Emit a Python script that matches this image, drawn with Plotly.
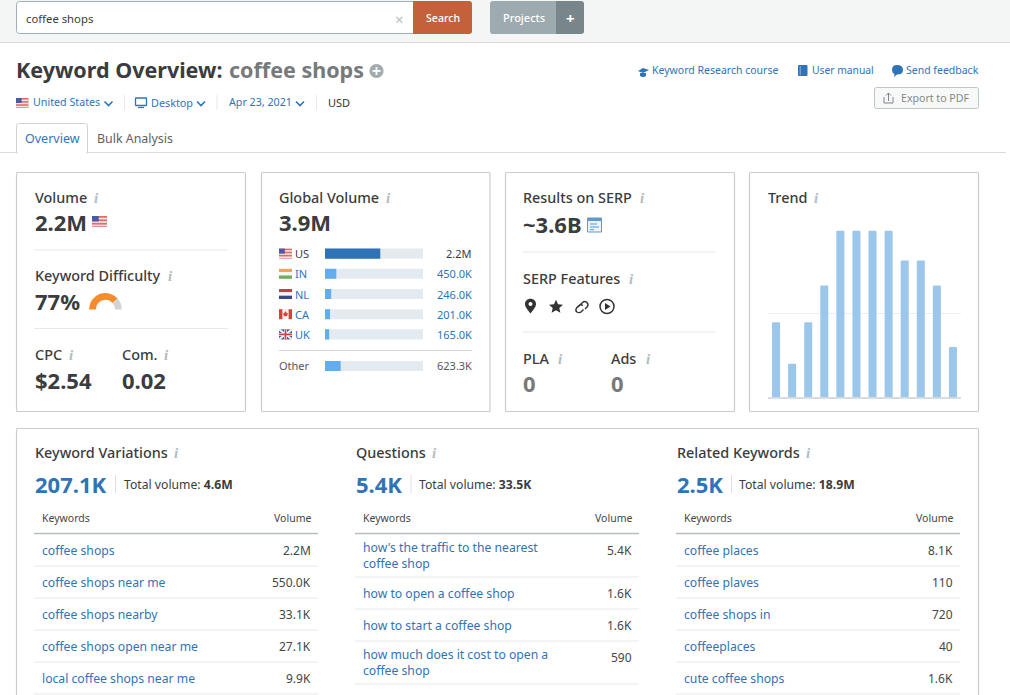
import plotly.graph_objects as go

# ---------- data ----------
trend_months = ["M1","M2","M3","M4","M5","M6","M7","M8","M9","M10","M11","M12"]
trend_values = [45, 20, 45, 67, 100, 100, 100, 100, 82, 82, 67, 30]

country_codes = ["US", "IN", "NL", "CA", "UK"]
country_values = [2200, 450, 246, 201, 165]
country_labels = ["2.2M", "450.0K", "246.0K", "201.0K", "165.0K"]
other_value = 623.3
other_label = "623.3K"
global_total = 3900

difficulty = [77, 23]

variation_keywords = ["coffee shops", "coffee shops near me", "coffee shops nearby", "coffee shops open near me", "local coffee shops near me"]
variation_volumes = ["2.2M", "550.0K", "33.1K", "27.1K", "9.9K"]
question_keywords = ["how's the traffic to the nearest\ncoffee shop", "how to open a coffee shop", "how to start a coffee shop", "how much does it cost to open a\ncoffee shop"]
question_volumes = ["5.4K", "1.6K", "1.6K", "590"]
related_keywords = ["coffee places", "coffee plaves", "coffee shops in", "coffeeplaces", "cute coffee shops"]
related_volumes = ["8.1K", "110", "720", "40", "1.6K"]

# ---------- style ----------
W, H = 1010, 695
FONT = "Noto Sans"
DARK = "#3a3c3e"
BLUE = "#2f73b8"
GREY = "#7d7f81"
SEP = "#e6e9eb"
CARD = "#c9cdd0"
BIG = 22
HEAD = 14.4

shapes, annots = [], []

def T(x, y, text, size=12, color=DARK, bold=False, anchor="left", font=FONT, weight=None):
    w = weight if weight else (700 if bold else 400)
    annots.append(dict(x=x, y=y, xref="x", yref="y", text=text, showarrow=False, xanchor=anchor, align=anchor if anchor != "center" else "center",
                       yanchor="middle", borderpad=0, borderwidth=0,
                       font=dict(family=font, size=size, color=color, weight=w)))

def rect(x0, y0, x1, y1, fill="rgba(0,0,0,0)", line=None, lw=1):
    shapes.append(dict(type="rect", xref="x", yref="y", x0=x0, y0=y0, x1=x1, y1=y1, fillcolor=fill,
                       line=dict(color=line or "rgba(0,0,0,0)", width=lw if line else 0), layer="below"))

def rr_path(x0, y0, x1, y1, r, corners=(1, 1, 1, 1)):
    tl, tr, br, bl = [r * c for c in corners]
    p = f"M{x0+tl},{y0} L{x1-tr},{y0} "
    p += f"Q{x1},{y0} {x1},{y0+tr} L{x1},{y1-br} Q{x1},{y1} {x1-br},{y1} "
    p += f"L{x0+bl},{y1} Q{x0},{y1} {x0},{y1-bl} L{x0},{y0+tl} Q{x0},{y0} {x0+tl},{y0} Z"
    return p

def path(d, fill="rgba(0,0,0,0)", line=None, lw=1):
    shapes.append(dict(type="path", xref="x", yref="y", path=d, fillcolor=fill,
                       line=dict(color=line or "rgba(0,0,0,0)", width=lw if line else 0), layer="below"))

def circle(cx, cy, r, fill="rgba(0,0,0,0)", line=None, lw=1):
    k = 0.5523 * r
    d = (f"M{cx-r},{cy} C{cx-r},{cy-k} {cx-k},{cy-r} {cx},{cy-r} C{cx+k},{cy-r} {cx+r},{cy-k} {cx+r},{cy} "
         f"C{cx+r},{cy+k} {cx+k},{cy+r} {cx},{cy+r} C{cx-k},{cy+r} {cx-r},{cy+k} {cx-r},{cy} Z")
    path(d, fill, line, lw)

def rr(x0, y0, x1, y1, r=2, fill="rgba(0,0,0,0)", line=None, lw=1, corners=(1, 1, 1, 1)):
    path(rr_path(x0, y0, x1, y1, r, corners), fill, line, lw)

def hline(x0, x1, y, color=SEP, lw=1):
    shapes.append(dict(type="line", xref="x", yref="y", x0=x0, x1=x1, y0=y, y1=y, line=dict(color=color, width=lw), layer="below"))

def vline(x, y0, y1, color=SEP, lw=1):
    shapes.append(dict(type="line", xref="x", yref="y", x0=x, x1=x, y0=y0, y1=y1, line=dict(color=color, width=lw), layer="below"))

def info(x, y):
    T(x, y, "<i>i</i>", 15, "#b4bbbf", font="Liberation Serif", anchor="center", bold=True)

def chevron(x, y):
    path(f"M{x-4},{y-2} L{x},{y+2} L{x+4},{y-2}", line=BLUE, lw=1.6)

def flag(kind, x, y, w=13, h=10):
    if kind == "US":
        rect(x, y, x + w, y + h, "#e06a66")
        for i in range(1, 6, 2):
            rect(x, y + i * h / 6.4, x + w, y + (i + 1) * h / 6.4, "#f3e4e4")
        rect(x, y, x + w * 0.45, y + h * 0.5, "#4a5aa5")
    elif kind == "IN":
        rect(x, y, x + w, y + h / 3, "#f0a35c")
        rect(x, y + h / 3, x + w, y + 2 * h / 3, "#f6f6f2")
        rect(x, y + 2 * h / 3, x + w, y + h, "#6fae5c")
    elif kind == "NL":
        rect(x, y, x + w, y + h / 3, "#b8434a")
        rect(x, y + h / 3, x + w, y + 2 * h / 3, "#f4f4f4")
        rect(x, y + 2 * h / 3, x + w, y + h, "#36498f")
    elif kind == "CA":
        rect(x, y, x + w, y + h, "#f6f2f2")
        rect(x, y, x + w * 0.26, y + h, "#d8403a")
        rect(x + w * 0.74, y, x + w, y + h, "#d8403a")
        cx, cy = x + w / 2, y + h / 2
        path(f"M{cx},{cy-3.2} L{cx+1.4},{cy-1} L{cx+2.6},{cy-0.6} L{cx+1.6},{cy+1.6} L{cx},{cy+2.2} L{cx-1.6},{cy+1.6} L{cx-2.6},{cy-0.6} L{cx-1.4},{cy-1} Z", "#d8403a")
    else:
        rect(x, y, x + w, y + h, "#3f4f95")
        path(f"M{x},{y} L{x+w},{y+h} M{x+w},{y} L{x},{y+h}", line="#eef0f4", lw=2)
        rect(x, y + h / 2 - 1.5, x + w, y + h / 2 + 1.5, "#eef0f4")
        rect(x + w / 2 - 1.5, y, x + w / 2 + 1.5, y + h, "#eef0f4")
        rect(x, y + h / 2 - 0.8, x + w, y + h / 2 + 0.8, "#c9424a")
        rect(x + w / 2 - 0.8, y, x + w / 2 + 0.8, y + h, "#c9424a")

# ---------- top bar ----------
rect(0, 0, W, 42, "#f4f5f5")
hline(0, W, 42.5, "#d9dcde", 1)
rr(16.5, 1.5, 416, 33.5, 3, "#ffffff", "#9fb0b8", 1, corners=(1, 0, 0, 1))
rr(413, 1, 472, 34, 3, "#c4613a", corners=(0, 1, 1, 0))
rr(490, 1, 556, 34, 3, "#9daaaf", corners=(1, 0, 0, 1))
rr(556, 1, 584, 34, 3, "#78868c", corners=(0, 1, 1, 0))
T(26, 18.5, "coffee shops", 11.3)
T(399, 19, "×", 15, "#b8bdc0", anchor="center")
T(442.5, 17.5, "Search", 10.6, "#ffffff", anchor="center", weight=500)
T(523.5, 17.5, "Projects", 11, "#ffffff", anchor="center", weight=500)
T(570, 18, "+", 15, "#ffffff", anchor="center", bold=True)

# ---------- title row ----------
T(16, 69, "Keyword Overview:", 21.5, DARK, bold=True)
T(229, 69, "coffee shops", 21.5, "#77797b", bold=True)
circle(376.5, 71, 7, "#a3abaf")
hline(372.5, 380.5, 71, "#ffffff", 1.8)
vline(376.5, 67, 75, "#ffffff", 1.8)

# links
path("M638,71 L643,68 L649,70 L643,73 Z", BLUE)
path("M640,73 L640,76 Q643,78 646,76 L646,73", BLUE)
T(652, 69.7, "Keyword Research course", 10.5, BLUE)
rr(798, 65, 807.5, 76, 1, BLUE)
vline(800.2, 66, 75, "#a9c6e3", 0.8)
T(812, 69.7, "User manual", 10.3, BLUE)
path("M892,70 Q892,65 897,65 Q903,65 903,70 Q903,74.5 897,74.5 L894,77 L894.5,74 Q892,73 892,70 Z", BLUE)
T(906, 69.7, "Send feedback", 10.5, BLUE)
rr(874.5, 87.5, 978.5, 108.5, 2, "#f7f8f8", "#c0c5c8", 1)
path("M884,97 L884,103 L893,103 L893,97", line="#80868a", lw=1)
path("M888.5,101 L888.5,93 M886,95.5 L888.5,93 L891,95.5", line="#80868a", lw=1)
T(901, 97.5, "Export to PDF", 10.6, "#85888a")

# filters
flag("US", 16, 98, 12.5, 10)
T(33, 102, "United States", 10.7, BLUE)
chevron(108.5, 103.5)
vline(124.5, 95, 110)
rr(135.5, 98, 146.5, 105.5, 0.5, "rgba(0,0,0,0)", BLUE, 1.3)
hline(138, 144, 107.5, BLUE, 1.2)
T(151, 102, "Desktop", 10.8, BLUE)
chevron(201, 103.5)
vline(217, 95, 110)
T(229, 102, "Apr 23, 2021", 10.7, BLUE)
chevron(300, 103.5)
vline(316.5, 95, 110)
T(328, 102.7, "USD", 11, "#333333")

# tabs
hline(0, 1006, 152.5, "#d9dcde", 1.2)
rr(16.5, 123.5, 87.5, 153, 2, "#ffffff", "#cfd3d6", 1, corners=(1, 1, 0, 0))
rect(17.5, 150, 86.5, 154, "#ffffff")
T(25, 138.2, "Overview", 12.5, BLUE)
T(97, 138.2, "Bulk Analysis", 12.4, "#606264")

# ---------- cards ----------
for x0, x1 in [(16.5, 245.5), (261.5, 490), (505.5, 734.5), (749.5, 978.5)]:
    rr(x0, 172.5, x1, 411.5, 1, "#ffffff", CARD, 1.2)
rr(16.5, 428.5, 978.5, 720, 1, "#ffffff", CARD, 1.2)

# card 1
T(34.5, 197, "Volume", HEAD, DARK, weight=500); info(96, 198)
T(34.5, 221.7, "2.2M", BIG, DARK, bold=True)
flag("US", 92, 216, 15, 11)
hline(34, 228, 250)
T(34.5, 275.7, "Keyword Difficulty", HEAD, DARK, weight=500); info(170.5, 276)
T(34.5, 300.7, "77%", BIG, DARK, bold=True)
hline(34, 228, 328.5)
T(34.5, 354.7, "CPC", HEAD, DARK, weight=500); info(71.5, 355)
T(122, 354.7, "Com.", HEAD, DARK, weight=500); info(166, 355)
T(34.5, 379.5, "$2.54", BIG, DARK, bold=True)
T(122, 379.5, "0.02", BIG, DARK, bold=True)

# card 2
T(279, 197, "Global Volume", HEAD, DARK, weight=500); info(388, 198)
T(279, 221.7, "3.9M", BIG, DARK, bold=True)
row_h = 20.2
gv_top = 243.5
for i, code in enumerate(country_codes):
    yc = gv_top + row_h * (i + 0.5)
    flag(code, 279, yc - 5, 13, 10)
    T(295, yc, code, 11, DARK if i == 0 else BLUE)
    T(472, yc, country_labels[i], 11, DARK if i == 0 else BLUE, anchor="right")
hline(279, 472, 350.5, "#d5d9dc", 1)
T(279, 365.5, "Other", 11, "#55585a")
T(472, 365.5, other_label, 11, "#55585a", anchor="right")

# card 3
T(523, 197, "Results on SERP", HEAD, DARK, weight=500); info(642, 198)
T(523, 223.7, "~3.6B", BIG, DARK, bold=True)
rect(587.5, 218, 601.5, 232, "#eaf2fa", "#5b9bd5", 1)
rect(587.5, 218, 601.5, 221, "#5b9bd5")
for yy, xe in [(224, 597), (227, 599), (229.7, 594)]:
    hline(590, xe, yy, "#5b9bd5", 1)
hline(523, 716, 252)
T(523, 278, "SERP Features", HEAD, DARK, weight=500); info(631, 279)
# serp icons
path("M530.5,313.5 C527,309 525,306.5 525,304 C525,301 527.5,298.8 530.5,298.8 C533.5,298.8 536,301 536,304 C536,306.5 534,309 530.5,313.5 Z", "#333333")
circle(530.5, 304, 2, "#ffffff")
path("M556,299.8 L558,304.2 L563,304.8 L559.3,308 L560.4,312.8 L556,310.2 L551.6,312.8 L552.7,308 L549,304.8 L554,304.2 Z", "#333333")
path("M578,307 L582.5,302.5 Q584.5,300.5 587,302.5 Q589,305 587,307 L585,309 M583,305.5 Q580.5,304 579,305.5 L576.5,308 Q575,310.5 577,312 Q579.5,313.5 581.5,311.5 L583.5,309.5", line="#333333", lw=1.4)
circle(607, 306.5, 7, line="#333333", lw=1.5)
path("M605,303 L610.5,306.5 L605,310 Z", "#333333")
hline(523, 716, 332)
T(523, 358, "PLA", HEAD, DARK, weight=500); info(560, 359)
T(611, 358, "Ads", HEAD, DARK, weight=500); info(648, 359)
T(523, 383, "0", BIG, "#77797b", bold=True)
T(611, 383, "0", BIG, "#77797b", bold=True)

# card 4
T(768, 197, "Trend", HEAD, DARK, weight=500); info(816, 198)

# ---------- bottom tables ----------
def table(x0, title, info_x, big, div_x, total_x, total, keywords, volumes):
    T(x0 + 0.5, 452.2, title, HEAD, DARK, weight=500); info(info_x, 453)
    T(x0 + 0.5, 483.7, big, BIG, BLUE, bold=True)
    vline(div_x, 475, 493, "#dcdfe1")
    T(total_x, 484, f"Total volume: <b>{total}</b>", 12.2, DARK)
    T(x0 + 8, 518, "Keywords", 10.5, "#444648")
    T(x0 + 277, 518, "Volume", 10.5, "#444648", anchor="right")
    hline(x0, x0 + 284, 533.5, "#b6bdc1", 1.4)
    top = 534
    for kw, vol in zip(keywords, volumes):
        lines = kw.split("\n")
        if len(lines) == 1:
            T(x0 + 8, top + 16, lines[0], 12.2, BLUE)
            h = 32
        else:
            T(x0 + 8, top + 21, "<br>".join(lines), 12.2, BLUE)
            h = 43
        T(x0 + 277, top + 16, vol, 12, "#444648", anchor="right")
        top += h
        hline(x0, x0 + 284, top, SEP, 1)

table(34, "Keyword Variations", 176.5, "207.1K", 115.5, 124, "4.6M", variation_keywords, variation_volumes)
table(355, "Questions", 434.5, "5.4K", 411, 418.5, "33.5K", question_keywords, question_volumes)
table(676, "Related Keywords", 808.5, "2.5K", 731.5, 739, "18.9M", related_keywords, related_volumes)

# ---------- traces ----------
fig = go.Figure()

def dom(a, b, size):
    return [a / size, b / size]

def ydom(top, bottom):
    return [1 - bottom / H, 1 - top / H]

hidden = dict(showgrid=False, zeroline=False, showticklabels=False, ticks="", showline=False, fixedrange=True)

# trend bars
fig.add_trace(go.Bar(x=trend_months, y=trend_values, xaxis="x2", yaxis="y2", marker=dict(color="#9cc7ec", line=dict(width=0), cornerradius=1), hoverinfo="skip"))

# global volume
track = [global_total] * len(country_codes)
bar_colors = ["#2e72b8"] + ["#62acef"] * (len(country_codes) - 1)
fig.add_trace(go.Bar(y=country_codes, x=track, orientation="h", xaxis="x3", yaxis="y3", marker=dict(color="#e4ebf0", line=dict(width=0), cornerradius=1), hoverinfo="skip"))
fig.add_trace(go.Bar(y=country_codes, x=country_values, orientation="h", xaxis="x3", yaxis="y3", marker=dict(color=bar_colors, line=dict(width=0), cornerradius=1), hoverinfo="skip"))
fig.add_trace(go.Bar(y=["Other"], x=[global_total], orientation="h", xaxis="x4", yaxis="y4", marker=dict(color="#e4ebf0", line=dict(width=0), cornerradius=1), hoverinfo="skip"))
fig.add_trace(go.Bar(y=["Other"], x=[other_value], orientation="h", xaxis="x4", yaxis="y4", marker=dict(color="#62acef", line=dict(width=0), cornerradius=1), hoverinfo="skip"))

# difficulty gauge
fig.add_trace(go.Pie(values=difficulty + [sum(difficulty)], sort=False, direction="clockwise", rotation=270, hole=0.58,
                     textinfo="none", hoverinfo="skip", showlegend=False,
                     marker=dict(colors=["#f58b2c", "#d2d4d5", "rgba(0,0,0,0)"], line=dict(width=0)),
                     domain=dict(x=dom(89, 121.8, W), y=ydom(293, 325.8))))

fig.update_layout(
    width=W, height=H, autosize=False, margin=dict(l=0, r=0, t=0, b=0, pad=0),
    paper_bgcolor="#ffffff", plot_bgcolor="rgba(0,0,0,0)", showlegend=False, barmode="overlay", hovermode=False,
    font=dict(family=FONT),
    shapes=shapes, annotations=annots,
    xaxis=dict(range=[0, W], domain=[0, 1], **hidden),
    yaxis=dict(range=[H, 0], domain=[0, 1], **hidden),
    xaxis2=dict(domain=dom(768, 961, W), anchor="y2", type="category", showgrid=False, zeroline=False, showticklabels=False, ticks="",
                showline=True, linecolor="#d9dcde", linewidth=1.5, fixedrange=True),
    yaxis2=dict(domain=ydom(230, 397), anchor="x2", range=[0, 100.4], tickvals=[50, 100], showticklabels=False, ticks="",
                showgrid=True, gridcolor="#eceef0", gridwidth=1, zeroline=False, showline=False, fixedrange=True),
    xaxis3=dict(domain=dom(325, 423, W), anchor="y3", range=[0, global_total], **hidden),
    yaxis3=dict(domain=ydom(gv_top, gv_top + row_h * 5), anchor="x3", autorange="reversed", type="category", **hidden),
    xaxis4=dict(domain=dom(325, 423, W), anchor="y4", range=[0, global_total], **hidden),
    yaxis4=dict(domain=ydom(356, 376), anchor="x4", type="category", **hidden),
    bargap=0.5,
)

fig.write_html("out.html", config=dict(displayModeBar=False, staticPlot=True),
               post_script="document.body.style.margin='0';document.body.style.overflow='hidden';")
